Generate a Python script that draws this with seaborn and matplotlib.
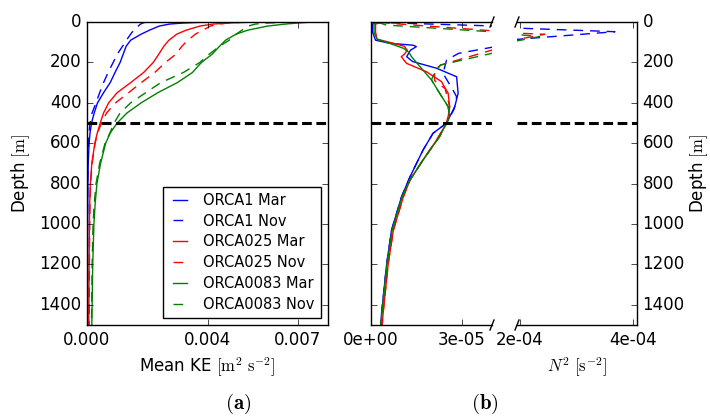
import numpy as np
import matplotlib
matplotlib.use("Agg")
import matplotlib.pyplot as plt
import seaborn as sns
from matplotlib.ticker import FormatStrFormatter

# depth grid for the kinetic energy profiles (m)
depth_ke = [0, 5, 10, 20, 40, 60, 90, 120, 160, 200, 250, 300, 350, 400, 450,
            500, 550, 600, 700, 800, 900, 1000, 1200, 1500]

# mean KE in units of 1e-3 m2 s-2
ke_orca1_mar = [4.0, 3.2, 2.75, 2.4, 2.08, 1.8, 1.45, 1.3, 1.2, 1.1, 0.93, 0.77,
                0.55, 0.35, 0.24, 0.15, 0.10, 0.07, 0.04, 0.03, 0.025, 0.02, 0.02, 0.02]
ke_orca1_nov = [1.97, 1.85, 1.78, 1.7, 1.55, 1.45, 1.31, 1.18, 1.0, 0.87, 0.7, 0.55,
                0.42, 0.3, 0.17, 0.1, 0.07, 0.05, 0.03, 0.02, 0.02, 0.015, 0.015, 0.015]
ke_orca025_mar = [5.6, 4.7, 4.2, 3.75, 3.3, 2.98, 2.72, 2.55, 2.38, 2.2, 1.88, 1.45,
                  1.0, 0.72, 0.55, 0.44, 0.34, 0.26, 0.16, 0.11, 0.09, 0.08, 0.07, 0.06]
ke_orca025_nov = [5.3, 4.7, 4.4, 4.1, 3.85, 3.6, 3.35, 3.15, 2.95, 2.6, 2.25, 1.8,
                  1.38, 0.95, 0.65, 0.48, 0.35, 0.27, 0.17, 0.12, 0.1, 0.09, 0.08, 0.07]
ke_orca0083_mar = [7.5, 7.0, 6.6, 6.0, 5.35, 4.95, 4.6, 4.4, 4.15, 3.8, 3.5, 3.0,
                   2.35, 1.8, 1.33, 1.0, 0.77, 0.62, 0.45, 0.33, 0.27, 0.23, 0.19, 0.16]
ke_orca0083_nov = [6.8, 6.0, 5.6, 5.35, 5.15, 4.95, 4.72, 4.4, 4.05, 3.75, 3.2, 2.45,
                   1.95, 1.45, 1.1, 0.9, 0.76, 0.6, 0.42, 0.3, 0.24, 0.2, 0.17, 0.15]

# N2 profiles, values in units of 1e-5 s-2
n2_depth_orca1_mar = [0, 10, 50, 90, 105, 115, 122, 140, 172, 196, 229, 271, 353, 419,
                      469, 500, 551, 634, 766, 865, 1030, 1195, 1442, 1500]
n2_orca1_mar = [0.15, 0.05, 0.05, 0.15, 0.6, 1.4, 1.5, 1.3, 1.18, 1.38, 2.17, 2.83, 2.88,
                2.77, 2.6, 2.5, 2.05, 1.72, 1.29, 1.01, 0.68, 0.52, 0.35, 0.32]
n2_depth_orca1_nov = [0, 2, 19, 31, 48, 86, 125, 155, 188, 254, 337, 370, 430, 500, 551,
                      634, 766, 865, 1030, 1195, 1442, 1500]
n2_orca1_nov = [0.1, 0.2, 3.9, 20.3, 36.8, 19.5, 4.0, 2.9, 2.5, 2.38, 2.71, 2.83, 2.75,
                2.5, 2.05, 1.72, 1.29, 1.01, 0.68, 0.52, 0.35, 0.32]
n2_depth_orca025_mar = [0, 10, 50, 85, 100, 120, 140, 160, 172, 205, 246, 295, 353, 419,
                        469, 500, 584, 683, 782, 865, 1030, 1195, 1442, 1500]
n2_orca025_mar = [0.4, 0.15, 0.15, 0.2, 0.6, 1.1, 1.2, 1.1, 1.0, 1.18, 1.83, 2.33, 2.55,
                  2.6, 2.55, 2.5, 2.17, 1.72, 1.29, 1.07, 0.74, 0.57, 0.4, 0.37]
n2_depth_orca025_nov = [0, 5, 43, 56, 61, 84, 139, 213, 240, 290, 330, 419, 469, 500, 584,
                        683, 782, 865, 1030, 1195, 1442, 1500]
n2_orca025_nov = [0.3, 0.5, 3.95, 20.3, 24.4, 20.0, 4.0, 2.3, 2.1, 2.1, 2.45, 2.6, 2.55,
                  2.5, 2.17, 1.72, 1.29, 1.07, 0.74, 0.57, 0.4, 0.37]
n2_depth_orca0083_mar = [0, 10, 50, 85, 105, 130, 150, 172, 221, 287, 353, 419, 469, 500,
                         567, 683, 782, 865, 1030, 1195, 1442, 1500]
n2_orca0083_mar = [0.3, 0.1, 0.1, 0.2, 0.6, 1.07, 1.25, 1.34, 1.62, 2.0, 2.27, 2.55, 2.6,
                   2.5, 2.27, 1.72, 1.29, 1.03, 0.7, 0.53, 0.36, 0.33]
n2_depth_orca0083_nov = [0, 15, 48, 64, 72, 92, 155, 213, 250, 287, 353, 419, 469, 500,
                         567, 683, 782, 865, 1030, 1195, 1442, 1500]
n2_orca0083_nov = [0.2, 0.5, 3.95, 20.3, 23.5, 19.8, 4.0, 2.3, 2.1, 2.0, 2.27, 2.55, 2.6,
                   2.5, 2.27, 1.72, 1.29, 1.03, 0.7, 0.53, 0.36, 0.33]

labels = ["ORCA1 Mar", "ORCA1 Nov", "ORCA025 Mar", "ORCA025 Nov",
          "ORCA0083 Mar", "ORCA0083 Nov"]
colors = ["b", "b", "r", "r", "g", "g"]
styles = ["-", (0, (7, 5)), "-", (0, (7, 5)), "-", (0, (7, 5))]
mld = 500

plt.style.use("classic")
plt.rcParams["figure.facecolor"] = "white"
plt.rcParams["savefig.facecolor"] = "white"
plt.rcParams["font.family"] = ["DejaVu Sans"]
plt.rcParams["mathtext.fontset"] = "cm"
plt.rcParams["font.size"] = 12

fig = plt.figure(figsize=(7.1, 4.16), dpi=100)
W, H = 710.0, 416.0
bot, top = 325, 22
ax1 = fig.add_axes([87 / W, (H - bot) / H, (328 - 87) / W, (bot - top) / H])
ax2 = fig.add_axes([371 / W, (H - bot) / H, (492 - 371) / W, (bot - top) / H])
ax3 = fig.add_axes([517 / W, (H - bot) / H, (637 - 517) / W, (bot - top) / H])

ke_series = [ke_orca1_mar, ke_orca1_nov, ke_orca025_mar, ke_orca025_nov,
             ke_orca0083_mar, ke_orca0083_nov]
for vals, lab, c, ls in zip(ke_series, labels, colors, styles):
    sns.lineplot(x=np.array(vals) * 1e-3, y=depth_ke, orient="y", sort=False,
                 estimator=None, color=c, linestyle=ls, lw=1.0, label=lab, ax=ax1)

n2_series = [(n2_depth_orca1_mar, n2_orca1_mar), (n2_depth_orca1_nov, n2_orca1_nov),
             (n2_depth_orca025_mar, n2_orca025_mar), (n2_depth_orca025_nov, n2_orca025_nov),
             (n2_depth_orca0083_mar, n2_orca0083_mar), (n2_depth_orca0083_nov, n2_orca0083_nov)]
for ax in (ax2, ax3):
    for (d, vals), c, ls in zip(n2_series, colors, styles):
        sns.lineplot(x=np.array(vals) * 1e-5, y=d, orient="y", sort=False,
                     estimator=None, color=c, linestyle=ls, lw=1.0, legend=False, ax=ax)

for ax in (ax1, ax2, ax3):
    ax.axhline(mld, color="k", linestyle=(0, (7, 3.3)), lw=2.2)
    ax.set_ylim(1500, 0)
    ax.set_yticks(np.arange(0, 1500, 200))
    ax.set_xlabel("")
    ax.set_ylabel("")

# panel (a)
ax1.set_xlim(0, 0.008)
ax1.set_xticks([0, 0.004, 0.007])
ax1.xaxis.set_major_formatter(FormatStrFormatter("%.3f"))
ax1.set_xlabel(r"Mean KE $[\mathrm{m}^2\ \mathrm{s}^{-2}]$")
ax1.set_ylabel(r"Depth $[\mathrm{m}]$")
leg = ax1.legend(loc="lower right", fontsize=10.5, handlelength=1.6, labelspacing=0.4,
                 fancybox=False, borderaxespad=0.5)
leg.get_frame().set_edgecolor("k")

# panel (b), broken x axis
ax2.set_xlim(0, 4e-5)
ax2.set_xticks([0, 3e-5])
ax2.xaxis.set_major_formatter(FormatStrFormatter("%.0e"))
ax2.spines["right"].set_visible(False)
ax2.yaxis.tick_left()
ax2.tick_params(labelleft=False)

ax3.set_xlim(1.95e-4, 4.07e-4)
ax3.set_xticks([2e-4, 4e-4])
ax3.xaxis.set_major_formatter(FormatStrFormatter("%.0e"))
ax3.spines["left"].set_visible(False)
ax3.yaxis.tick_right()
ax3.yaxis.set_label_position("right")
ax3.set_ylabel(r"Depth $[\mathrm{m}]$", labelpad=2)
ax3.set_xlabel(r"$N^2\ [\mathrm{s}^{-2}]$")

d = 0.0165
kw = dict(color="k", clip_on=False, lw=1.0)
ax2.plot((1 - d, 1 + d), (-d, d), transform=ax2.transAxes, **kw)
ax2.plot((1 - d, 1 + d), (1 - d, 1 + d), transform=ax2.transAxes, **kw)
ax3.plot((-d, d), (-d, d), transform=ax3.transAxes, **kw)
ax3.plot((-d, d), (1 - d, 1 + d), transform=ax3.transAxes, **kw)

fig.text(238 / W, 1 - 404 / H, r"$\mathbf{(a)}$", ha="center", va="center", fontsize=15)
fig.text(485 / W, 1 - 404 / H, r"$\mathbf{(b)}$", ha="center", va="center", fontsize=15)

fig.savefig("out.png", dpi=100)
